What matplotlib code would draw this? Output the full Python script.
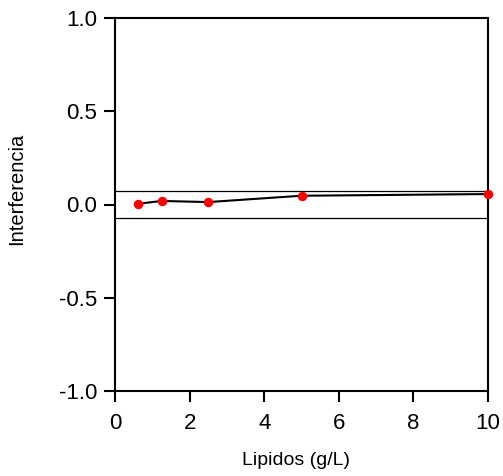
import matplotlib
matplotlib.use("Agg")
import matplotlib.pyplot as plt

plt.rcParams['font.family'] = ['Liberation Sans', 'DejaVu Sans']

lipidos = [0.625, 1.25, 2.5, 5.0, 10.0]
interferencia = [0.004, 0.019, 0.013, 0.047, 0.056]
limit = 0.07
xticks = [0, 2, 4, 6, 8, 10]
yticks = [-1.0, -0.5, 0.0, 0.5, 1.0]

fig = plt.figure(figsize=(5.03, 4.76), dpi=100)
ax = fig.add_axes([115/503, 1-391/476, (488-115)/503, (391-18)/476])

ax.axhline(limit, color='black', lw=0.9)
ax.axhline(-limit, color='black', lw=0.9)
ax.plot(lipidos, interferencia, color='black', lw=1.5, zorder=3, clip_on=False)
ax.plot(lipidos, interferencia, 'o', color='#ff0000', markersize=6.8, zorder=4, clip_on=False, markeredgewidth=0)

ax.set_xlim(0, 10)
ax.set_ylim(-1.0, 1.0)
ax.set_xticks(xticks)
ax.set_xticklabels([str(t) for t in xticks])
ax.set_yticks(yticks)
ax.set_yticklabels([f"{t:.1f}" for t in yticks])
for s in ax.spines.values():
    s.set_linewidth(1.5)
ax.tick_params(direction='out', length=8, width=1.5, labelsize=16)
ax.tick_params(axis='x', pad=8)
ax.tick_params(axis='y', pad=5)
ax.set_xlabel('Lipidos (g/L)', fontsize=14, va='baseline', ha='center')
ax.xaxis.set_label_coords((296-115)/373, (391-465)/373)
ax.set_ylabel('Interferencia', fontsize=14.5, va='center', ha='center')
ax.yaxis.set_label_coords((17-115)/373, (391-189)/373)

fig.savefig('out.png', dpi=100)
